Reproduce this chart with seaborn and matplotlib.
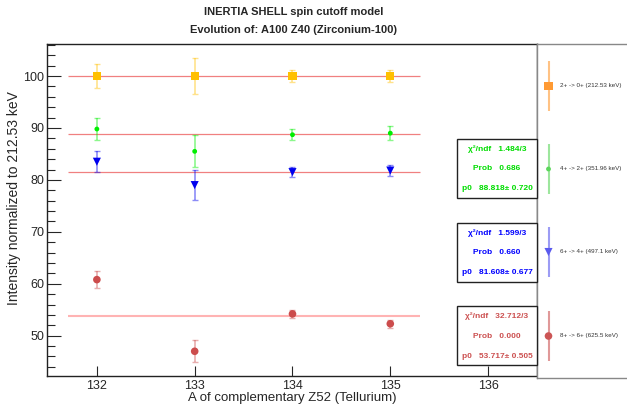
import numpy as np
import pandas as pd
import matplotlib
matplotlib.use('Agg')
import matplotlib.pyplot as plt
from matplotlib.patches import Rectangle
import seaborn as sns

# data
mass_numbers = [132, 133, 134, 135]
transitions = ['2+ -> 0+ (212.53 keV)', '4+ -> 2+ (351.96 keV)',
               '6+ -> 4+ (497.1 keV)', '8+ -> 6+ (625.5 keV)']
intens_2to0 = [100.0, 100.0, 100.0, 100.0]
err_2to0 = [2.3, 3.5, 1.2, 1.2]
intens_4to2 = [89.8, 85.5, 88.7, 89.0]
err_4to2 = [2.1, 3.1, 1.1, 1.3]
intens_6to4 = [83.5, 79.0, 81.5, 81.8]
err_6to4 = [2.0, 2.9, 0.95, 1.0]
intens_8to6 = [60.8, 47.0, 54.2, 52.3]
err_8to6 = [1.6, 2.1, 0.8, 0.8]

fit_p0 = [100.0, 88.818, 81.608, 53.717]
fit_chi2 = [None, '1.484/3', '1.599/3', '32.712/3']
fit_prob = [None, '0.686', '0.660', '0.000']
fit_p0_err = [None, '0.720', '0.677', '0.505']

# styles
marker_colors = ['#ffc000', '#00ee00', '#0000ee', '#cc4c4c']
legend_colors = ['#ff9a33', '#5cd65c', '#5a5aee', '#cc5555']
text_colors = ['#ff9a33', '#00dd00', '#0000ff', '#cc5050']
markers = ['s', 'o', 'v', 'o']
msizes = [34, 12, 34, 30]

W, H = 627, 407
L, R, T, B = 47, 537, 44, 376
sns.set_style('ticks')
plt.rcParams['font.family'] = ['Liberation Sans', 'DejaVu Sans']

fig = plt.figure(figsize=(W / 100, H / 100), dpi=100)
ax = fig.add_axes([L / W, 1 - B / H, (R - L) / W, (B - T) / H])

series = [intens_2to0, intens_4to2, intens_6to4, intens_8to6]
errors = [err_2to0, err_4to2, err_6to4, err_8to6]

# fit lines
for i, p0 in enumerate(fit_p0):
    if i == 3:
        ax.hlines(p0, 131.7, 135.3, color='#ffb3b3', lw=1.5, zorder=1)
    else:
        ax.hlines(p0, 131.7, 135.3, color='#f08080', lw=0.9, zorder=1)

frames = []
for name, vals, errs in zip(transitions, series, errors):
    frames.append(pd.DataFrame({'A': mass_numbers, 'I': vals, 'err': errs, 'trans': name}))
df = pd.concat(frames, ignore_index=True)

for i, name in enumerate(transitions):
    sub = df[df['trans'] == name]
    ax.errorbar(sub['A'], sub['I'], yerr=sub['err'], fmt='none',
                ecolor=marker_colors[i], alpha=0.45, elinewidth=1.2,
                capsize=2, capthick=1, zorder=2)
    sns.scatterplot(data=sub, x='A', y='I', marker=markers[i], s=msizes[i],
                    color=marker_colors[i], edgecolor='none', ax=ax,
                    zorder=3, legend=False)

ax.set_xlim(131.49, 136.5)
ax.set_ylim(42.24, 106.17)
ax.set_xticks([132, 133, 134, 135, 136])
ax.set_yticks([50, 60, 70, 80, 90, 100])
ax.set_yticks(np.arange(44, 107, 2), minor=True)
ax.tick_params(axis='both', direction='in', labelsize=9, width=0.8)
ax.tick_params(axis='y', which='major', length=10, pad=2)
ax.tick_params(axis='y', which='minor', direction='in', length=5.5, width=0.8)
ax.tick_params(axis='x', which='major', length=7.5, pad=3)
ax.set_xlabel('A of complementary Z52 (Tellurium)', fontsize=9.5)
ax.set_ylabel('Intensity normalized to 212.53 keV', fontsize=10)
ax.xaxis.set_label_coords(0.5, -(398 - B) / (B - T))
ax.yaxis.set_label_coords(-(L - 14) / (R - L), (B - 198) / (B - T))
ax.xaxis.label.set_va('center')
ax.yaxis.label.set_va('center')
for s in ax.spines.values():
    s.set_linewidth(1.0)
    s.set_color('#222222')

# titles
fig.text(294 / W, 1 - 12 / H, 'INERTIA SHELL spin cutoff model', ha='center',
         va='center', fontsize=8, fontweight='bold')
fig.text(294 / W, 1 - 30 / H, 'Evolution of: A100 Z40 (Zirconium-100)', ha='center',
         va='center', fontsize=8, fontweight='bold')

# stat boxes
box_tops = [None, 139, 223, 306]
for i in range(1, 4):
    top = box_tops[i]
    fig.patches.append(Rectangle((457 / W, 1 - (top + 59) / H), 80 / W, 59 / H,
                                 transform=fig.transFigure, facecolor='white',
                                 edgecolor='#222222', lw=1.0, zorder=5))
    lines = ['\u03c7\u00b2/ndf   ' + fit_chi2[i],
             'Prob   ' + fit_prob[i],
             'p0   %.3f\u00b1 %s' % (fit_p0[i], fit_p0_err[i])]
    for k, t in enumerate(lines):
        fig.text(497 / W, 1 - (top + 10 + k * 20) / H, t, ha='center', va='center',
                 fontsize=6, fontweight='bold', color=text_colors[i], zorder=6)

# legend panel
lax = fig.add_axes([R / W, 1 - 378 / H, 100 / W, (378 - T) / H])
lax.set_xlim(R, R + 100)
lax.set_ylim(378, T)
lax.set_xticks([])
lax.set_yticks([])
for s in lax.spines.values():
    s.set_color('#888888')
    s.set_linewidth(1.0)
leg_y = [86, 169, 252, 336]
for i, name in enumerate(transitions):
    lax.errorbar([548.5], [leg_y[i]], yerr=[25], fmt='none', ecolor=legend_colors[i],
                 alpha=0.6, elinewidth=1.5)
    lax.scatter([548.5], [leg_y[i]], marker=markers[i], s=msizes[i],
                color=legend_colors[i], edgecolor='none', zorder=3)
    lax.text(560, leg_y[i], name, ha='left', va='center', fontsize=4.5, color='#333333')

fig.savefig('out.png', dpi=100)
